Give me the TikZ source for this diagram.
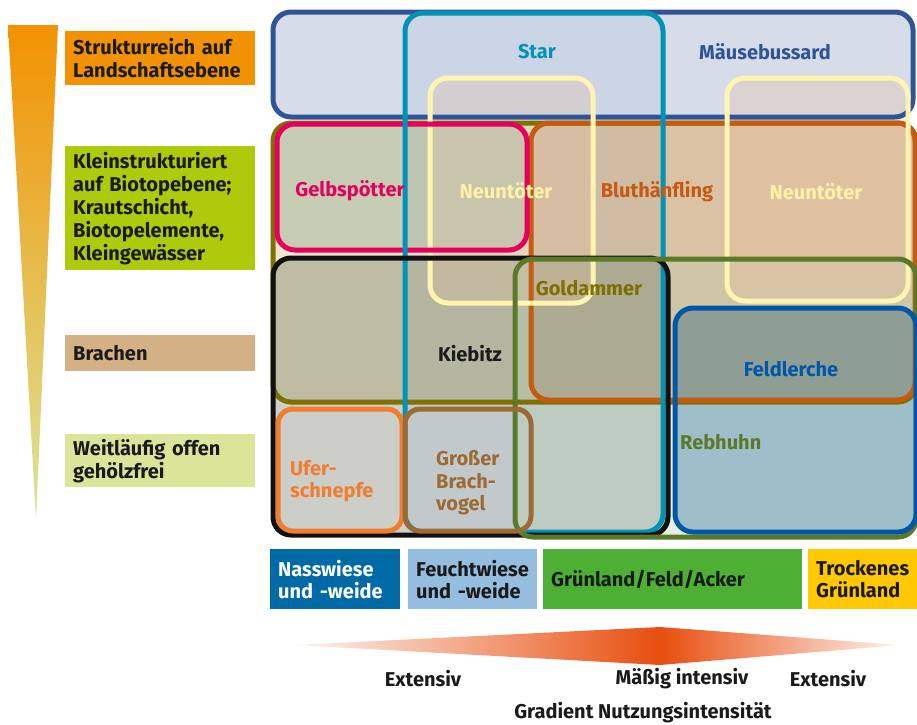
\documentclass[tikz,border=0pt]{standalone}
\usepackage{fontspec}
\setmainfont{Fira Sans}
\definecolor{ink}{HTML}{1A1A1A}
\definecolor{cMb}{HTML}{2F5597}
\definecolor{cSt}{HTML}{0092B7}
\definecolor{cNt}{HTML}{FFF5B0}
\definecolor{cNtT}{HTML}{FFF3A6}
\definecolor{cOl}{HTML}{807000}
\definecolor{cGe}{HTML}{E4005C}
\definecolor{cBl}{HTML}{C55A11}
\definecolor{cKi}{HTML}{111111}
\definecolor{cGo}{HTML}{5A7A2A}
\definecolor{cGoT}{HTML}{7F6F00}
\definecolor{cFe}{HTML}{0057A8}
\definecolor{cUf}{HTML}{F07D30}
\definecolor{cBr}{HTML}{9C6B35}
\definecolor{fMb}{HTML}{D6DCE8}
\definecolor{fOl}{HTML}{EDE8CC}
\definecolor{fSt}{HTML}{F2F8FD}
\definecolor{fGe}{HTML}{D7E1E1}
\definecolor{fBl}{HTML}{EDD6CD}
\definecolor{fKi}{HTML}{CDCFCC}
\definecolor{fUf}{HTML}{FFFEFA}
\definecolor{fNt}{HTML}{E8C0A0}
\definecolor{fGo}{HTML}{B8D0B0}
\definecolor{fFe}{HTML}{B0CCE3}
\definecolor{lOr}{HTML}{F39200}
\definecolor{lMid}{HTML}{E3C86A}
\definecolor{lBot}{HTML}{DCE59C}
\definecolor{lGr}{HTML}{AFCA0B}
\definecolor{lTa}{HTML}{D4B185}
\definecolor{lLg}{HTML}{DAE59A}
\definecolor{gNa}{HTML}{006AA6}
\definecolor{gFe}{HTML}{95BDE0}
\definecolor{gGr}{HTML}{4DAF34}
\definecolor{gTr}{HTML}{FFC800}
\definecolor{grad}{HTML}{E84E0F}
\begin{document}
\hyphenpenalty=10000
\exhyphenpenalty=10000
\begin{tikzpicture}[x=1pt,y=-1pt,
  bx/.style={line width=5pt,rounded corners=18pt},
  sbx/.style={line width=5pt,rounded corners=15pt},
  lbl/.style={font=\fontsize{20}{22.5}\selectfont\bfseries,inner sep=0pt},
  side/.style={font=\fontsize{20}{23}\selectfont\bfseries,text=ink,anchor=north west,
    inner xsep=8pt,inner ysep=0pt,align=left,text width=174pt},
  leg/.style={font=\fontsize{20}{22}\selectfont\bfseries,text=ink,anchor=north west,
    inner xsep=8pt,inner ysep=0pt,align=left,minimum height=60pt},
  bot/.style={font=\fontsize{20}{22}\selectfont\bfseries,text=ink,inner sep=0pt}]
\useasboundingbox (0,0) rectangle (917,724);

% ---------- box corners ----------
\coordinate (mb1) at (273,12);  \coordinate (mb2) at (913,117);
\coordinate (st1) at (405,13);  \coordinate (st2) at (663,532);
\coordinate (nl1) at (430,78);  \coordinate (nl2) at (593,303);
\coordinate (nr1) at (727,78);  \coordinate (nr2) at (908,301);
\coordinate (ol1) at (273,123); \coordinate (ol2) at (916,402);
\coordinate (ge1) at (277,124); \coordinate (ge2) at (527,250);
\coordinate (bl1) at (531,123); \coordinate (bl2) at (915,400);
\coordinate (ki1) at (273,258); \coordinate (ki2) at (668,535);
\coordinate (go1) at (515,259); \coordinate (go2) at (916,537);
\coordinate (fe1) at (675,308); \coordinate (fe2) at (916,532);
\coordinate (uf1) at (278,409); \coordinate (uf2) at (402,531);
\coordinate (br1) at (405,409); \coordinate (br2) at (531,531);

% ---------- fills ----------
\begin{scope}[blend mode=multiply]
  \fill[bx,fill=fMb] (mb1) rectangle (mb2);
  \fill[bx,fill=fOl] (ol1) rectangle (ol2);
  \fill[bx,fill=fSt] (st1) rectangle (st2);
  \fill[bx,fill=fGe] (ge1) rectangle (ge2);
  \fill[bx,fill=fBl] (bl1) rectangle (bl2);
  \fill[bx,fill=fKi] (ki1) rectangle (ki2);
  \fill[sbx,fill=fUf] (uf1) rectangle (uf2);
\end{scope}
\fill[bx,fill=fGo,fill opacity=0.35] (go1) rectangle (go2);
\fill[bx,fill=fNt,fill opacity=0.3] (nl1) rectangle (nl2);
\fill[bx,fill=fNt,fill opacity=0.3] (nr1) rectangle (nr2);
\begin{scope}[blend mode=multiply]
  \fill[bx,fill=fFe] (fe1) rectangle (fe2);
\end{scope}

% ---------- strokes ----------
\draw[bx,cMb] (mb1) rectangle (mb2);
\draw[bx,cOl] (ol1) rectangle (ol2);
\draw[bx,cBl] (bl1) rectangle (bl2);
\draw[bx,cNt] (nl1) rectangle (nl2);
\draw[bx,cNt] (nr1) rectangle (nr2);
\draw[bx,cGe] (ge1) rectangle (ge2);
\draw[bx,cSt] (st1) rectangle (st2);
\draw[bx,cKi] (ki1) rectangle (ki2);
\draw[bx,cGo] (go1) rectangle (go2);
\draw[bx,cFe] (fe1) rectangle (fe2);
\draw[sbx,cUf] (uf1) rectangle (uf2);
\draw[sbx,cBr] (br1) rectangle (br2);

% ---------- species labels ----------
\node[lbl,text=cSt] (tSt) at (537,52) {Star};
\node[lbl,text=cMb] (tMb) at (765,52) {Mäusebussard};
\node[lbl,text=cGe] (tGe) at (350,191) {Gelbspötter};
\node[lbl,text=cNtT] (tNl) at (506,191) {Neuntöter};
\node[lbl,text=cBl] (tBl) at (657,192) {Bluthänfling};
\node[lbl,text=cNtT] (tNr) at (816,192) {Neuntöter};
\node[lbl,text=cGoT] (tGo) at (589,288) {Goldammer};
\node[lbl,text=ink] (tKi) at (470,354) {Kiebitz};
\node[lbl,text=cFe] (tFe) at (791,369) {Feldlerche};
\node[lbl,text=cGo,anchor=west] (tRe) at (680,442) {Rebhuhn};
\node[lbl,text=cUf,anchor=west,align=left] (tUf) at (290,481) {Ufer-\\schnepfe};
\node[lbl,text=cBr,anchor=west,align=left] (tBr) at (436,483) {Großer\\Brach-\\vogel};

% ---------- left gradient and labels ----------
\shade[top color=lOr,middle color=lMid,bottom color=lBot]
  (8,25) -- (58,25) -- (36,520) -- cycle;
\node[side,fill=lOr,minimum height=54pt] (sOr) at (65,31) {Strukturreich auf\\Landschaftsebene};
\node[side,fill=lGr,minimum height=124pt] (sGr) at (65,146) {Kleinstrukturiert\\auf Biotopebene;\\Krautschicht,\\Biotopelemente,\\Kleingewässer};
\node[side,fill=lTa,minimum height=36pt] (sTa) at (65,335) {Brachen};
\node[side,fill=lLg,minimum height=53pt] (sLg) at (65,434) {Weitläufig offen\\gehölzfrei};

% ---------- habitat legend ----------
\node[leg,fill=gNa,text=white,text width=114pt] (gN) at (270,549) {Nasswiese\\und -weide};
\node[leg,fill=gFe,text width=113pt] (gF) at (408,549) {Feuchtwiese\\und -weide};
\node[leg,fill=gGr,text width=243pt] (gG) at (543,549) {Grünland/Feld/Acker};
\node[leg,fill=gTr,text width=100pt] (gT) at (808,549) {Trockenes\\Grünland};

% ---------- intensity gradient ----------
\shade[left color=grad!6,middle color=grad!30,right color=grad]
  (295,645) -- (660,627) -- (660,665) -- cycle;
\shade[left color=grad,middle color=grad!30,right color=grad!6]
  (660,627) -- (900,645) -- (660,665) -- cycle;
\node[bot] (e1) at (423,679) {Extensiv};
\node[bot] (e2) at (682,679) {Mäßig intensiv};
\node[bot] (e3) at (828,679) {Extensiv};
\node[bot] (gr) at (643,713) {Gradient Nutzungsintensität};
\end{tikzpicture}
\end{document}
